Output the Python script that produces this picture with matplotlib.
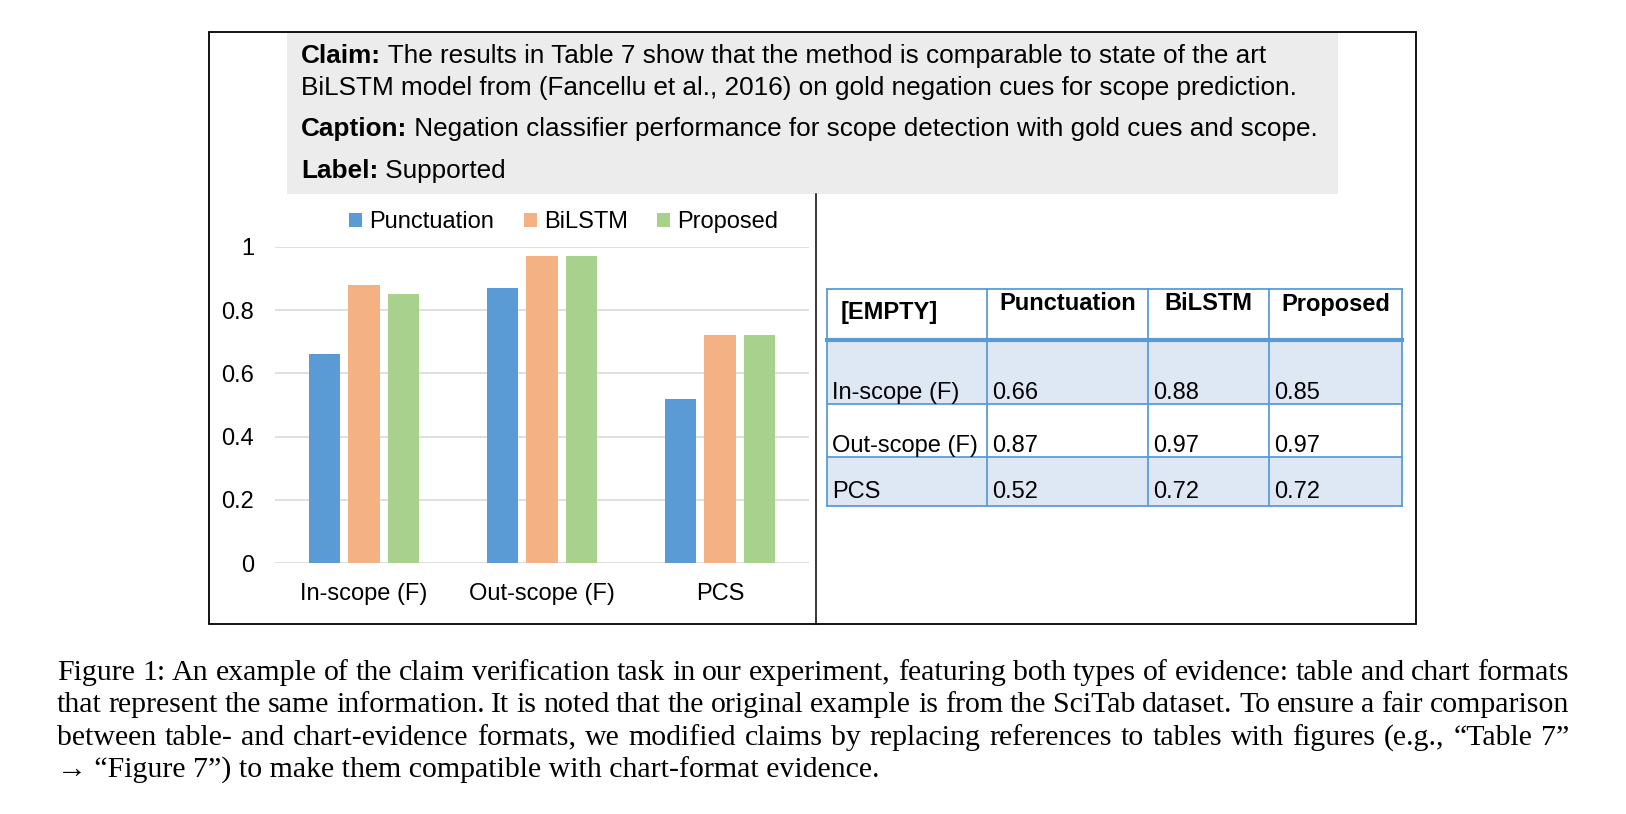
import matplotlib
matplotlib.use('Agg')
import matplotlib.pyplot as plt
from matplotlib.patches import Rectangle

# %% data
categories = ['In-scope (F)', 'Out-scope (F)', 'PCS']
series = ['Punctuation', 'BiLSTM', 'Proposed']
punctuation = [0.66, 0.87, 0.52]
bilstm = [0.88, 0.97, 0.72]
proposed = [0.85, 0.97, 0.72]
yticks = [0, 0.2, 0.4, 0.6, 0.8, 1]
ytick_labels = ['0', '0.2', '0.4', '0.6', '0.8', '1']
colors = ['#5b9bd5', '#f4b183', '#a9d18e']

claim = ["The results in Table 7 show that the method is comparable to state of the art",
         "BiLSTM model from (Fancellu et al., 2016) on gold negation cues for scope prediction."]
chart_caption = "Negation classifier performance for scope detection with gold cues and scope."
label = "Supported"
table_corner = '[EMPTY]'

fig_caption = [
    "Figure 1: An example of the claim verification task in our experiment, featuring both types of evidence: table and chart formats",
    "that represent the same information. It is noted that the original example is from the SciTab dataset. To ensure a fair comparison",
    "between table- and chart-evidence formats, we modified claims by replacing references to tables with figures (e.g., \u201cTable 7\u201d",
    "\u2192 \u201cFigure 7\u201d) to make them compatible with chart-format evidence.",
]

# %% figure, everything placed in pixels of the 1626x814 picture
W, H = 1626, 814
fig = plt.figure(figsize=(W / 100, H / 100), dpi=100)
renderer = fig.canvas.get_renderer()
SANS = ['Liberation Sans', 'DejaVu Sans']
SERIF = ['Liberation Serif', 'DejaVu Serif']


def fx(x):
    return x / W


def fy(y):
    return 1 - y / H


def box(x0, y0, x1, y1, **kw):
    fig.patches.append(Rectangle((fx(x0), fy(y1)), fx(x1) - fx(x0), fy(y0) - fy(y1),
                                 transform=fig.transFigure, **kw))


def line(x0, y0, x1, y1, **kw):
    fig.add_artist(plt.Line2D([fx(x0), fx(x1)], [fy(y0), fy(y1)], transform=fig.transFigure, **kw))


def segs(x, y, parts, size):
    # draw text pieces one after the other on one line
    for s, w in parts:
        t = fig.text(fx(x), fy(y), s, fontsize=size, fontweight=w, family=SANS, va='center', ha='left')
        x += t.get_window_extent(renderer).width


# outer frame, grey box, divider
box(209, 32, 1416, 624, fill=False, ec='black', lw=1.3)
box(287, 33, 1338, 194, fc='#ececec', ec='none')
line(816, 194, 816, 624, color='black', lw=1.1)

TS = 18.8
segs(301, 56, [('Claim:', 'bold'), (' ' + claim[0], 'normal')], TS)
segs(301, 88, [(claim[1], 'normal')], TS)
segs(301, 129, [('Caption:', 'bold'), (' ' + chart_caption, 'normal')], TS)
segs(301, 171, [('Label:', 'bold'), (' ' + label, 'normal')], TS)

# %% bar chart
FS = 17
ax = fig.add_axes([fx(275), fy(563), fx(809) - fx(275), fy(247) - fy(563)])
x = list(range(len(categories)))
w = 0.175
for k, (name, vals) in enumerate(zip(series, [punctuation, bilstm, proposed])):
    ax.bar([i + (k - 1) * 0.222 for i in x], vals, width=w, color=colors[k], label=name, zorder=3)
ax.set_xlim(-0.5, 2.5)
ax.set_ylim(0, 1)
ax.set_yticks(yticks)
ax.set_yticklabels(ytick_labels, family=SANS, fontsize=FS)
ax.set_xticks(x)
ax.set_xticklabels(categories, family=SANS, fontsize=FS)
ax.tick_params(length=0)
ax.tick_params(axis='y', pad=15)
ax.tick_params(axis='x', pad=14.5)
ax.yaxis.grid(True, color='#d9d9d9', lw=1.2, zorder=0)
for s in ax.spines.values():
    s.set_visible(False)
ax.set_facecolor('none')
ax.legend(loc='center', bbox_to_anchor=(fx(564), fy(222)), bbox_transform=fig.transFigure,
          ncol=3, frameon=False, prop={'family': SANS, 'size': FS},
          handlelength=0.55, handleheight=0.55, handletextpad=0.3, columnspacing=1.25)

# %% table
cols = [827, 987, 1148, 1269, 1402]
rows = [289, 340, 404, 457, 506]
tcol = '#5b9bd5'
for r in range(1, 4):
    if r != 2:
        box(cols[0], rows[r], cols[-1], rows[r + 1], fc='#dde8f4', ec='none')
for c in cols:
    line(c, rows[0], c, rows[-1], color=tcol, lw=1.3)
for r in rows:
    line(cols[0], r, cols[-1], r, color=tcol, lw=3 if r == rows[1] else 1.3)

fig.text(fx(cols[0] + 14), fy(312), table_corner, fontsize=FS, fontweight='bold', family=SANS,
         va='center', ha='left')
for j, name in enumerate(series):
    fig.text(fx((cols[j + 1] + cols[j + 2]) / 2), fy(304), name, fontsize=FS, fontweight='bold',
             family=SANS, va='center', ha='center')
row_y = [393, 446, 492]
for i, cat in enumerate(categories):
    fig.text(fx(cols[0] + 5), fy(row_y[i]), cat, fontsize=FS, family=SANS, va='center', ha='left')
    for j, vals in enumerate([punctuation, bilstm, proposed]):
        fig.text(fx(cols[j + 1] + 5), fy(row_y[i]), '%.2f' % vals[i], fontsize=FS, family=SANS,
                 va='center', ha='left')

# %% figure caption, justified
CS = 21.5
left, right = 57, 1569
cap_y = [673, 705, 738, 770]
for n, txt in enumerate(fig_caption):
    words = txt.split(' ')
    if n < len(fig_caption) - 1:
        ts = [fig.text(0, 0, wd, fontsize=CS, family=SERIF, va='center', ha='left') for wd in words]
        widths = [t.get_window_extent(renderer).width for t in ts]
        gap = (right - left - sum(widths)) / (len(words) - 1)
        xx = left
        for t, wd in zip(ts, widths):
            t.set_position((fx(xx), fy(cap_y[n])))
            xx += wd + gap
    else:
        fig.text(fx(left), fy(cap_y[n]), txt, fontsize=CS, family=SERIF, va='center', ha='left')

fig.savefig('out.png', dpi=100)
